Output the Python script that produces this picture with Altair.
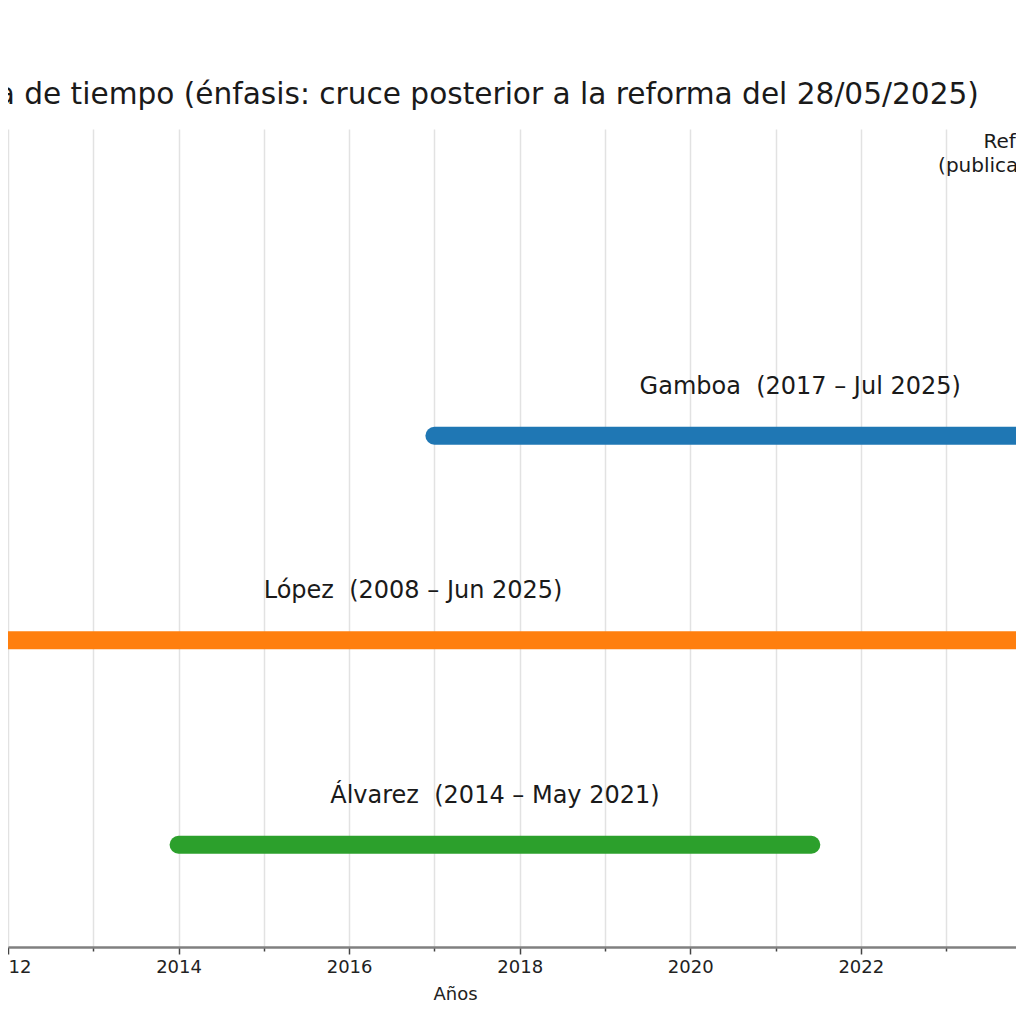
import altair as alt
import pandas as pd

# ---- data ----
names = ["Gamboa", "López", "Álvarez"]
labels = ["Gamboa\u00a0 (2017 – Jul 2025)", "López\u00a0 (2008 – Jun 2025)", "Álvarez\u00a0 (2014 – May 2021)"]
starts = [2017.0, 2008.0, 2014.0]
ends = [2025.58, 2025.5, 2021.42]
rows = [3, 2, 1]
colors = ["#1f77b4", "#ff7f0e", "#2ca02c"]
reform_date = [2025.41]
reform_text = ["Reforma\n(publicación)"]
years = list(range(2012, 2025))
title_text = "Línea de tiempo (énfasis: cruce posterior a la reforma del 28/05/2025)"

df = pd.DataFrame({"name": names, "label": labels, "start": starts, "end": ends, "row": rows})
df_ref = pd.DataFrame({"date": reform_date, "text": reform_text})

FONT = "DejaVu Sans"
x_scale = alt.Scale(domain=[2012, 2023.82], nice=False, zero=False)
y_scale = alt.Scale(domain=[0.5, 4.5], nice=False, zero=False)

x_axis = alt.Axis(
    values=years,
    format="d",
    labelExpr="datum.value % 2 === 0 ? datum.label : ''",
    grid=True,
    gridColor="#e2e2e2",
    gridWidth=1.5,
    domainColor="#808080",
    domainWidth=2.5,
    tickColor="#444444",
    tickWidth=1.5,
    tickSize={"condition": {"test": "datum.value % 2 === 0", "value": 7}, "value": 4},
    labelFontSize=18,
    labelFont=FONT,
    labelColor="#222222",
    labelPadding=4,
    labelFlush=False,
    labelOverlap=False,
    title="Años",
    titleFont=FONT,
    titleFontSize=18,
    titleFontWeight="normal",
    titleColor="#222222",
    titleX=447,
    titleY=52,
    titleAlign="center",
    titleBaseline="alphabetic",
)

base = alt.Chart(df)

bars = base.mark_rule(strokeWidth=18, strokeCap="round", clip=True).encode(
    x=alt.X("start:Q", scale=x_scale, axis=x_axis),
    x2="end:Q",
    y=alt.Y("row:Q", scale=y_scale, axis=None),
    color=alt.Color("name:N", scale=alt.Scale(domain=names, range=colors), legend=None),
)

text = base.mark_text(
    fontSize=24, font=FONT, color="#1a1a1a", baseline="alphabetic", align="center", dy=-42, clip=True
).transform_calculate(mid="(datum.start + datum.end) / 2").encode(
    x="mid:Q",
    y="row:Q",
    text="label:N",
)

reform_rule = alt.Chart(df_ref).mark_rule(
    strokeDash=[6, 4], color="#d62728", strokeWidth=2, clip=True
).encode(x="date:Q")

reform_label = alt.Chart(df_ref).mark_text(
    align="right", baseline="alphabetic", dx=-84, dy=19, fontSize=20, font=FONT,
    color="#1a1a1a", lineBreak="\n", lineHeight=24, clip=True
).encode(x="date:Q", y=alt.datum(4.5), text="text:N")

chart = alt.layer(bars, text, reform_rule, reform_label).properties(
    width=1008,
    height=818,
    autosize=alt.AutoSizeParams(type="none"),
    padding={"left": 0, "top": 121, "right": 0, "bottom": 61},
    title=alt.TitleParams(
        text=title_text, anchor="start", frame="group", dx=-73, dy=5, offset=0,
        baseline="alphabetic", fontSize=29.6, font=FONT, fontWeight="normal", color="#1a1a1a",
    ),
).configure(font=FONT).configure_view(stroke=None)

chart.save("out.html", embed_options={"renderer": "svg", "actions": False})
